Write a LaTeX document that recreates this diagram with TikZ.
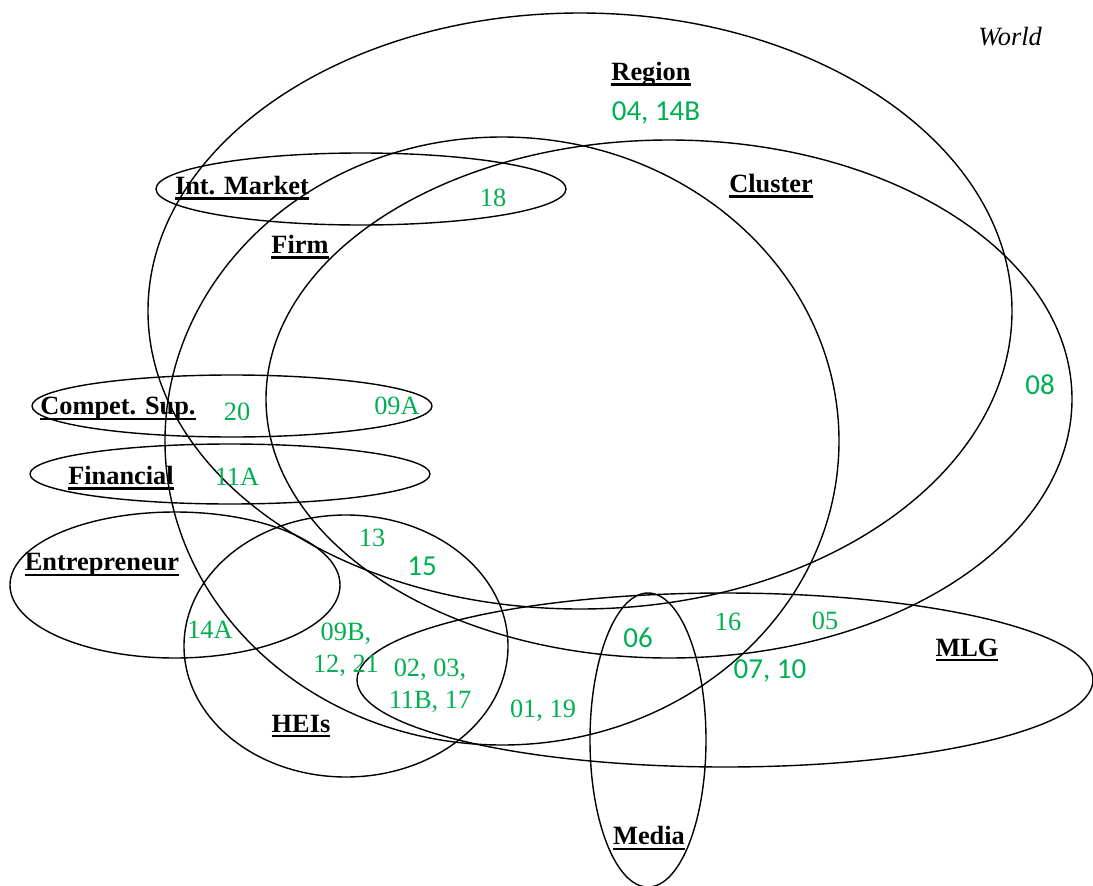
\documentclass[tikz,border=0pt]{standalone}
\usepackage{fontspec}
\setmainfont{Liberation Serif}
\newfontfamily\numsffont{Carlito}
\usepackage{xcolor}
\usetikzlibrary{positioning}
\definecolor{codegreen}{RGB}{0,176,80}
\tikzset{
  setline/.style={draw=black, line width=.8pt},
  lbl/.style={font=\fontsize{15}{17}\selectfont\bfseries, inner sep=1pt},
  num/.style={font=\fontsize{15}{18.5}\selectfont, text=codegreen, inner sep=1pt, align=center},
  numsf/.style={font=\fontsize{16.5}{19}\selectfont\numsffont, text=codegreen, inner sep=1pt, align=center},
}
\newsavebox{\lblbox}
\newcommand{\setlbl}[1]{\sbox{\lblbox}{#1}\rlap{\rule[-3pt]{\wd\lblbox}{1.3pt}}\usebox{\lblbox}}
\begin{document}
\begin{tikzpicture}[x=0.02cm, y=-0.02cm]
    \useasboundingbox (0,0) rectangle (1093,886);
    % sets
    \coordinate (cregion) at (580,311);
    \coordinate (cfirm) at (502,441);
    \coordinate (ccluster) at (669,399);
    \coordinate (cmarket) at (361,189);
    \coordinate (ccompet) at (232,406);
    \coordinate (cfin) at (230,474);
    \coordinate (centre) at (175,585);
    \coordinate (cheis) at (346,646);
    \coordinate (cmlg) at (725,680);
    \coordinate (cmedia) at (648,740);
    \draw[setline] (cregion) ellipse [x radius=432, y radius=298];
    \draw[setline] (cfirm) ellipse [x radius=337, y radius=304];
    \draw[setline] (ccluster) ellipse [x radius=403, y radius=259];
    \draw[setline] (cmarket) ellipse [x radius=205, y radius=36];
    \draw[setline] (ccompet) ellipse [x radius=200, y radius=31];
    \draw[setline] (cfin) ellipse [x radius=200, y radius=30];
    \draw[setline] (centre) ellipse [x radius=165, y radius=73];
    \draw[setline] (cheis) ellipse [x radius=162, y radius=131];
    \draw[setline] (cmlg) ellipse [x radius=368, y radius=87];
    \draw[setline] (cmedia) ellipse [x radius=58, y radius=147];
    % set names
    \node[font=\fontsize{15}{17}\selectfont\itshape] (world) at (1010,37) {World};
    \node[lbl] (region) at (651,74) {\setlbl{Region}};
    \node[lbl] (cluster) at (771,186) {\setlbl{Cluster}};
    \node[lbl] (market) at (242,188) {\setlbl{Int. Market}};
    \node[lbl] (firm) at (300,247) {\setlbl{Firm}};
    \node[lbl] (compet) at (118,409) {\setlbl{Compet. Sup.}};
    \node[lbl] (fin) at (121,478) {\setlbl{Financial}};
    \node[lbl] (entre) at (102,565) {\setlbl{Entrepreneur}};
    \node[lbl] (heis) at (301,726) {\setlbl{HEIs}};
    \node[lbl] (mlg) at (967,650) {\setlbl{MLG}};
    \node[lbl] (media) at (649,838) {\setlbl{Media}};
    % cases
    \node[numsf] (n04) at (656,113) {04, 14B};
    \node[num] (n18) at (493,198) {18};
    \node[numsf] (n08) at (1040,385) {08};
    \node[num] (n20) at (237,412) {20};
    \node[num] (n09a) at (397,406) {09A};
    \node[num] (n11a) at (237,477) {11A};
    \node[num] (n13) at (372,538) {13};
    \node[numsf] (n15) at (422,566) {15};
    \node[num] (n14a) at (210,630) {14A};
    \node[num] (n09b) at (346,650) {09B,\\12, 21};
    \node[num] (n02) at (430,686) {02, 03,\\11B, 17};
    \node[num] (n01) at (543,711) {01, 19};
    \node[numsf] (n06) at (638,638) {06};
    \node[num] (n16) at (728,622) {16};
    \node[num] (n05) at (825,621) {05};
    \node[numsf] (n07) at (770,671) {07, 10};
\end{tikzpicture}
\end{document}
